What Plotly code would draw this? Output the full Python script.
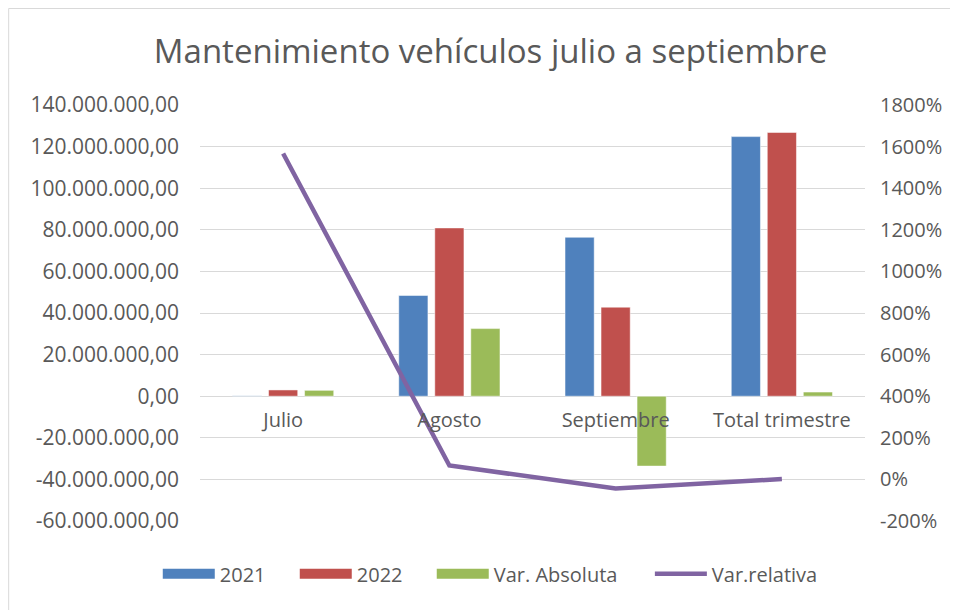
import plotly.graph_objects as go

categories = ["Julio", "Agosto", "Septiembre", "Total trimestre"]
v2021 = [180000, 48400000, 76400000, 124800000]
v2022 = [3000000, 80900000, 42800000, 126800000]
var_abs = [2820000, 32500000, -33600000, 2000000]
var_rel = [1567, 67, -44, 1.6]  # percent

left_ticks = [-60e6, -40e6, -20e6, 0, 20e6, 40e6, 60e6, 80e6, 100e6, 120e6, 140e6]
left_labels = ["-60.000.000,00", "-40.000.000,00", "-20.000.000,00", "0,00",
               "20.000.000,00", "40.000.000,00", "60.000.000,00", "80.000.000,00",
               "100.000.000,00", "120.000.000,00", "140.000.000,00"]
right_ticks = [-200, 0, 200, 400, 600, 800, 1000, 1200, 1400, 1600, 1800]
right_labels = [f"{v}%" for v in right_ticks]

FONT = "Open Sans"
GRAY = "#595959"
C2021, C2022, CABS, CREL = "#4F81BD", "#C0504D", "#9BBB59", "#8064A2"

fig = go.Figure()
fig.add_trace(go.Bar(name="2021", x=categories, y=v2021, marker_color=C2021,
                     marker_line_color="white", marker_line_width=0.5, showlegend=False))
fig.add_trace(go.Bar(name="2022", x=categories, y=v2022, marker_color=C2022,
                     marker_line_color="white", marker_line_width=0.5, showlegend=False))
fig.add_trace(go.Bar(name="Var. Absoluta", x=categories, y=var_abs, marker_color=CABS,
                     marker_line_color="white", marker_line_width=0.5, showlegend=False))
fig.add_trace(go.Scatter(name="Var.relativa", x=categories, y=var_rel, yaxis="y2",
                         mode="lines", line=dict(color=CREL, width=4.5), showlegend=False))

# legend entries (wide swatches like the original), one legend box each
legend_items = [("2021", C2021, 14, "legend"), ("2022", C2022, 14, "legend2"),
                ("Var. Absoluta", CABS, 14, "legend3"), ("Var.relativa", CREL, 4.5, "legend4")]
for name, col, w, lg in legend_items:
    fig.add_trace(go.Scatter(name=name, x=[None], y=[None], mode="lines",
                             line=dict(color=col, width=w), showlegend=True, legend=lg))

def leg(xpos):
    return dict(orientation="h", x=xpos, xanchor="left", y=-0.127, yanchor="middle",
                font=dict(size=20, color=GRAY), itemwidth=52, bgcolor="rgba(0,0,0,0)")

fig.update_layout(
    width=950, height=602,
    margin=dict(l=192, r=93, t=97, b=89),
    paper_bgcolor="white", plot_bgcolor="white",
    barmode="group", bargap=0.35, bargroupgap=0.19,
    font=dict(family=FONT, color=GRAY, size=20),
    title=dict(text="Mantenimiento vehículos julio a septiembre",
               x=0.508, xanchor="center", y=0.928, yanchor="middle",
               font=dict(family=FONT, size=33, color=GRAY)),
    xaxis=dict(anchor="free", position=0.298, showline=False, showgrid=False,
               ticks="", tickfont=dict(size=20, color=GRAY), ticklabelstandoff=9),
    yaxis=dict(range=[-60e6, 140e6], tickvals=left_ticks, ticktext=left_labels,
               showgrid=True, gridcolor="#D9D9D9", gridwidth=1, zeroline=True,
               zerolinecolor="#D9D9D9", zerolinewidth=1, showline=False,
               tickfont=dict(size=21, color=GRAY), ticklabelstandoff=20),
    yaxis2=dict(range=[-200, 1800], tickvals=right_ticks, ticktext=right_labels,
                overlaying="y", side="right", showgrid=False, zeroline=False,
                tickfont=dict(size=20, color=GRAY), ticklabelstandoff=14),
    legend=leg(-0.0635), legend2=leg(0.1425), legend3=leg(0.3485), legend4=leg(0.6765),
    showlegend=True,
    shapes=[dict(type="rect", xref="paper", yref="paper",
                 x0=-192 / 665 + 0.001, x1=1.2, y0=-0.4, y1=1 + 96.5 / 416,
                 line=dict(color="#D9D9D9", width=1), fillcolor="rgba(0,0,0,0)", layer="below")],
)

fig.write_html("out.html")
